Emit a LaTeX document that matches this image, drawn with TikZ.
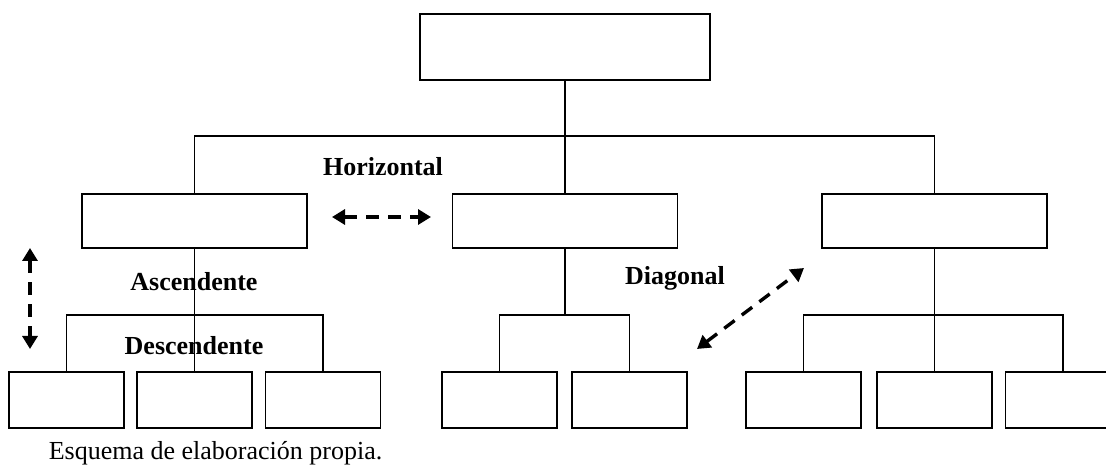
\documentclass[tikz,border=0pt]{standalone}
\usepackage{fontspec}
\setmainfont{Liberation Serif}
\usetikzlibrary{calc}
\usetikzlibrary{arrows.meta}

\begin{document}
\begin{tikzpicture}[x=1pt,y=-1pt,line width=1.5pt]

\tikzset{
    cargo/.style = {
    draw,
    inner sep=0pt,
    minimum height=54pt,
    minimum width=225pt
    },
    puesto/.style = {
    draw,
    inner sep=0pt,
    minimum height=56pt,
    minimum width=115pt
    },
    flujo/.style = {
    line width=3.4pt,
    dash pattern=on 13pt off 9pt,
    {Triangle[length=13pt,width=15pt]}-{Triangle[length=13pt,width=15pt]}
    },
    rotulo/.style = {
    font=\fontsize{26}{30}\selectfont\bfseries
    }
}

\useasboundingbox (0,0) rectangle (1106,470);

% niveles
\node (dir) [cargo, minimum width=290pt, minimum height=66pt] at (565,47) {};

\node (izq) [cargo] at (194.5,221) {};
\node (cen) [cargo] at (565,221) {};
\node (der) [cargo] at (934.5,221) {};

\node (p-1) [puesto] at (66.5,400) {};
\node (p-2) [puesto] at (194.5,400) {};
\node (p-3) [puesto] at (323,400) {};
\node (p-4) [puesto] at (499.5,400) {};
\node (p-5) [puesto] at (629.5,400) {};
\node (p-6) [puesto] at (803.5,400) {};
\node (p-7) [puesto] at (934.5,400) {};
\node (p-8) [puesto] at (1063,400) {};

% lineas de mando
\coordinate (h-0) at (565,136);
\coordinate (h-1) at (194.5,315);
\coordinate (h-2) at (565,315);
\coordinate (h-3) at (934.5,315);

\draw (dir.south) -- (cen.north);
\draw (izq.north) |- (h-0) -| (der.north);

\draw (izq.south) -- (p-2.north);
\draw (p-1.north) |- (h-1) -| (p-3.north);

\draw (cen.south) -- (h-2);
\draw (p-4.north) |- (h-2) -| (p-5.north);

\draw (der.south) -- (p-7.north);
\draw (p-6.north) |- (h-3) -| (p-8.north);

% comunicacion
\coordinate (hor-a) at (332,217);
\coordinate (hor-b) at (431,217);
\coordinate (ver-a) at (30,248);
\coordinate (ver-b) at (30,349);
\coordinate (dia-a) at (697,349);
\coordinate (dia-b) at (804,268);

\draw[flujo] (hor-a) -- (hor-b);
\draw[flujo] (ver-a) -- (ver-b);
\draw[flujo] (dia-a) -- (dia-b);

\node (t-hor) [rotulo] at (383,167) {Horizontal};
\node (t-asc) [rotulo] at (194,282) {Ascendente};
\node (t-des) [rotulo] at (194,346) {Descendente};
\node (t-dia) [rotulo] at (675,278) {Diagonal};

\node (fuente) [anchor=west, inner sep=0pt, font=\fontsize{26}{30}\selectfont] at (48,453) {Esquema de elaboración propia.};

\end{tikzpicture}
\end{document}
